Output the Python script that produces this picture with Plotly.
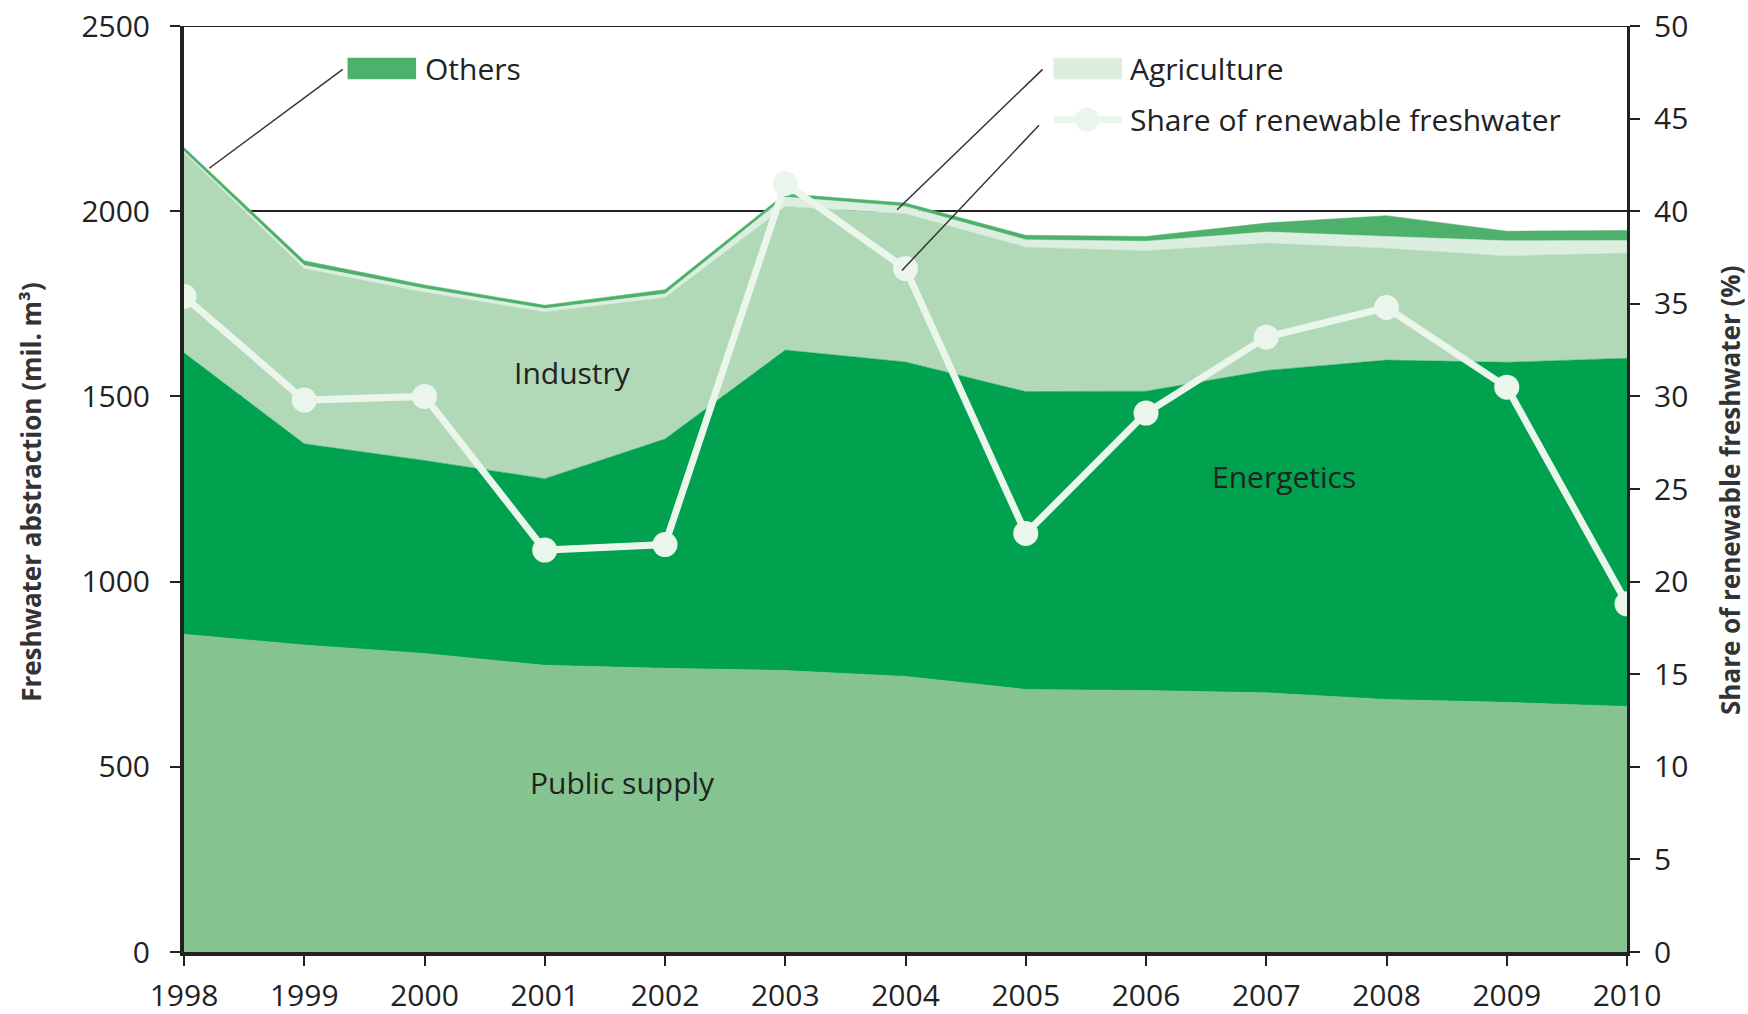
import plotly.graph_objects as go

years = list(range(1998, 2011))
public_supply = [858, 829, 806, 774, 766, 760, 744, 709, 706, 700, 682, 674, 663]
energetics = [760, 543, 521, 504, 619, 865, 849, 804, 808, 870, 916, 918, 940]
industry = [540, 473, 454, 450, 382, 388, 400, 390, 379, 344, 302, 287, 284]
agriculture = [4, 9, 10, 9, 10, 25, 20, 20, 26, 30, 32, 41, 34]
others = [10, 12, 10, 9, 11, 9, 9, 12, 13, 24, 56, 26, 27]
share_renewable = [35.4, 29.8, 30.0, 21.7, 22.0, 41.5, 36.9, 22.6, 29.1, 33.2, 34.8, 30.5, 18.8]

FONT = "Open Sans"
TXT = "#222222"

series = [
    ("Public supply", public_supply, "#85C491"),
    ("Energetics", energetics, "#00A14F"),
    ("Industry", industry, "#B1D9B7"),
    ("Agriculture", agriculture, "#DBEEDF"),
    ("Others", others, "#4DB16C"),
]

fig = go.Figure()
for name, vals, col in series:
    fig.add_trace(go.Scatter(
        x=years, y=vals, name=name, mode="lines", stackgroup="one",
        line=dict(width=0.5, color=col), fillcolor=col, showlegend=False,
    ))

fig.add_trace(go.Scatter(
    x=years, y=share_renewable, name="Share of renewable freshwater",
    mode="lines+markers", yaxis="y2",
    line=dict(color="#EAF5EC", width=7),
    marker=dict(color="#EAF5EC", size=25),
    showlegend=False,
))

shapes = []
annotations = []

# top border line at 2500
shapes.append(dict(type="line", xref="paper", yref="y", x0=0, x1=1, y0=2500, y1=2500,
                   line=dict(color="#222222", width=2), layer="below"))

# custom legend keys
shapes.append(dict(type="rect", xref="x", yref="y", x0=1999.36, x1=1999.93, y0=2356, y1=2414,
                   fillcolor="#4DB16C", line=dict(width=0)))
shapes.append(dict(type="rect", xref="x", yref="y", x0=2005.23, x1=2005.80, y0=2356, y1=2414,
                   fillcolor="#DBEEDF", line=dict(width=0)))
shapes.append(dict(type="line", xref="x", yref="y", x0=2005.23, x1=2005.80, y0=2247, y1=2247,
                   line=dict(color="#EAF5EC", width=7)))
shapes.append(dict(type="circle", xref="x", yref="y", xsizemode="pixel", ysizemode="pixel",
                   xanchor=2005.51, yanchor=2247, x0=-12, x1=12, y0=-12, y1=12,
                   fillcolor="#EAF5EC", line=dict(width=0)))
# leader lines
for x0, y0, x1, y1 in [(1999.32, 2383, 1998.21, 2116),
                       (2005.14, 2383, 2003.93, 2004),
                       (2005.11, 2232, 2003.97, 1840)]:
    shapes.append(dict(type="line", xref="x", yref="y", x0=x0, y0=y0, x1=x1, y1=y1,
                       line=dict(color="#333333", width=1.5)))

for text, x, y in [("Others", 1999.99, 2386), ("Agriculture", 2005.85, 2386),
                   ("Share of renewable freshwater", 2005.85, 2247)]:
    annotations.append(dict(text=text, x=x, y=y, xref="x", yref="y", xanchor="left",
                            yanchor="middle", showarrow=False,
                            font=dict(family=FONT, size=30, color=TXT)))

for text, x, y in [("Industry", 2001.23, 1565), ("Energetics", 2007.15, 1285),
                   ("Public supply", 2001.65, 457)]:
    annotations.append(dict(text=text, x=x, y=y, xref="x", yref="y", xanchor="center",
                            yanchor="middle", showarrow=False,
                            font=dict(family=FONT, size=30, color=TXT)))

annotations.append(dict(text="<b>Freshwater abstraction (mil. m³)</b>", x=-0.106, y=0.497,
                        xref="paper", yref="paper", textangle=-90, showarrow=False,
                        xanchor="center", yanchor="middle",
                        font=dict(family=FONT, size=26, color="#333333")))
annotations.append(dict(text="<b>Share of renewable freshwater (%)</b>", x=1.0714, y=0.499,
                        xref="paper", yref="paper", textangle=-90, showarrow=False,
                        xanchor="center", yanchor="middle",
                        font=dict(family=FONT, size=26, color="#333333")))

fig.update_layout(
    width=1748, height=1014,
    margin=dict(l=184, r=121, t=26, b=62, autoexpand=False),
    paper_bgcolor="white", plot_bgcolor="white",
    font=dict(family=FONT, size=30, color=TXT),
    showlegend=False,
    shapes=shapes, annotations=annotations,
    xaxis=dict(range=[1998, 2010], tickmode="array", tickvals=years,
               ticktext=[str(y) for y in years], automargin=False,
               ticks="outside", ticklen=10, tickwidth=2, tickcolor="#222",
               showline=True, linewidth=4, linecolor="#222", showgrid=False,
               zeroline=False, ticklabelstandoff=4,
               tickfont=dict(family=FONT, size=30, color=TXT)),
    yaxis=dict(range=[0, 2500], tickvals=[0, 500, 1000, 1500, 2000, 2500],
               ticks="outside", ticklen=10, tickwidth=2, tickcolor="#222",
               showline=True, linewidth=4, linecolor="#222", automargin=False,
               showgrid=True, gridcolor="#222", gridwidth=2, zeroline=False,
               ticklabelstandoff=14,
               tickfont=dict(family=FONT, size=30, color=TXT)),
    yaxis2=dict(range=[0, 50], tickvals=list(range(0, 51, 5)), overlaying="y", side="right",
                ticks="outside", ticklen=10, tickwidth=2, tickcolor="#222",
                showline=True, linewidth=3, linecolor="#222", showgrid=False,
                zeroline=False, ticklabelstandoff=8, automargin=False,
                tickfont=dict(family=FONT, size=30, color=TXT)),
)

# remove the default 8px page margin so the figure fills the window exactly
fig.write_html("out.html", config={"displayModeBar": False},
               post_script="document.body.style.margin='0';document.body.style.overflow='hidden';")
